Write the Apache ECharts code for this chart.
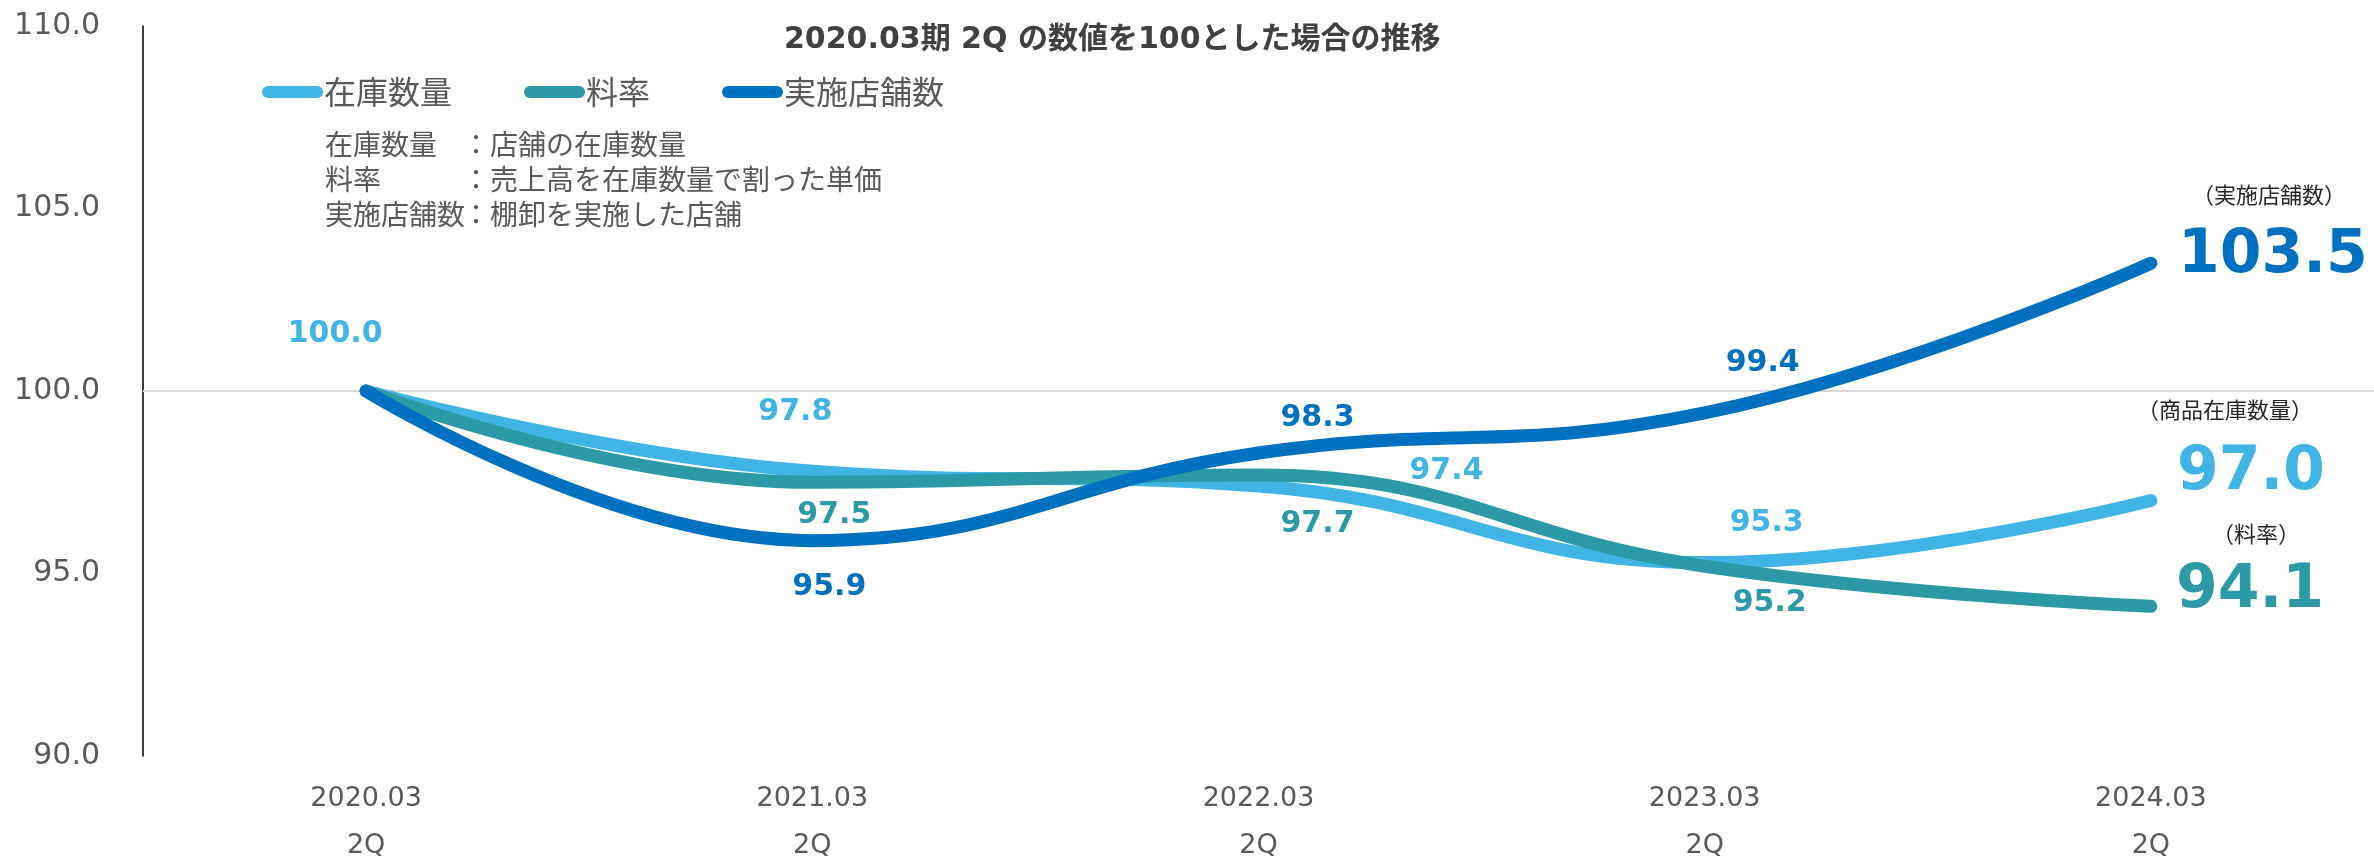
<!DOCTYPE html>
<html>
<head>
<meta charset="utf-8">
<script src="https://cdn.jsdelivr.net/npm/echarts@6/dist/echarts.min.js"></script>
<style>
  html, body { margin: 0; padding: 0; background: #fff; }
  #chart { width: 2374px; height: 860px; }
</style>
</head>
<body>
<div id="chart"></div>
<script>
const categories = ['2020.03\n2Q', '2021.03\n2Q', '2022.03\n2Q', '2023.03\n2Q', '2024.03\n2Q']
const stockQty = [100.0, 97.8, 97.4, 95.3, 97.0]
const rate = [100.0, 97.5, 97.7, 95.2, 94.1]
const storeCount = [100.0, 95.9, 98.3, 99.4, 103.5]
const seriesNames = ['在庫数量', '料率', '実施店舗数']
const yTicks = [90, 95, 100, 105, 110]

const titleText = '2020.03期 2Q の数値を100とした場合の推移'
const notes = [
  ['在庫数量', '：店舗の在庫数量'],
  ['料率', '：売上高を在庫数量で割った単価'],
  ['実施店舗数', '：棚卸を実施した店舗']
]
const endCaptions = ['（商品在庫数量）', '（料率）', '（実施店舗数）']

const colors = ['#41b4e6', '#2b9aa6', '#0070c0']
const latin = "'DejaVu Sans', 'Noto Sans CJK JP', sans-serif"
const cjk = "'Noto Sans CJK JP', 'DejaVu Sans', sans-serif"

// label placement per point (null = no label), last one is the big end label
const labelOffsets = [
  [[-31, -57], [-17, -59], [188, -15], [62, -39], [100, -27]],
  [null, [22, 33], [59, 49], [65, 37], [99, -15]],
  [null, [17, 47], [59, -35], [58, -50], [122, -7]]
]

const buildData = (values, idx) => values.map((v, i) => {
  const off = labelOffsets[idx][i]
  const last = i === values.length - 1
  return {
    value: v,
    label: off ? {
      show: true,
      position: 'inside',
      offset: off,
      formatter: (p) => p.value.toFixed(1),
      color: colors[idx],
      fontFamily: latin,
      fontWeight: 'bold',
      fontSize: last ? 60 : 30
    } : { show: false }
  }
})

const makeSeries = (values, idx) => ({
  name: seriesNames[idx],
  type: 'line',
  smooth: 0.45,
  z: 2 + idx,
  symbol: 'circle',
  symbolSize: 1,
  itemStyle: { color: colors[idx] },
  lineStyle: { width: 13, color: colors[idx], cap: 'round', join: 'round' },
  emphasis: { disabled: true },
  data: buildData(values, idx)
})

const chart = echarts.init(document.getElementById('chart'), null, { renderer: 'canvas' })

const noteGraphics = []
const noteY = [146, 181, 216]
notes.forEach((n, i) => {
  noteGraphics.push({
    type: 'text', left: 325, top: noteY[i] - 16,
    style: { text: n[0], fill: '#595959', font: `28px ${cjk}` }
  })
  noteGraphics.push({
    type: 'text', left: 462, top: noteY[i] - 16,
    style: { text: n[1], fill: '#595959', font: `28px ${cjk}` }
  })
})

const captionPos = [[2225, 410], [2256, 534], [2269, 195]]
const captionGraphics = endCaptions.map((t, i) => ({
  type: 'text',
  x: captionPos[i][0],
  y: captionPos[i][1],
  style: {
    text: t, fill: '#262626', font: `22px ${cjk}`,
    textAlign: 'center', textVerticalAlign: 'middle'
  }
}))

const series = [
  makeSeries(stockQty, 0),
  makeSeries(rate, 1),
  makeSeries(storeCount, 2)
]
series[0].markLine = {
  silent: true,
  symbol: 'none',
  label: { show: false },
  lineStyle: { color: '#d9d9d9', width: 2, type: 'solid' },
  data: [{ yAxis: 100 }],
  z: 1
}

chart.setOption({
  animation: false,
  backgroundColor: '#fff',
  title: {
    text: titleText,
    left: 779,
    top: 20,
    textStyle: { fontFamily: latin, fontWeight: 'bold', fontSize: 30, color: '#404040' }
  },
  legend: {
    left: 257,
    top: 71,
    itemWidth: 61,
    itemHeight: 12,
    itemGap: 72,
    icon: 'path://M6,0 L55,0 A6,6 0 0 1 55,12 L6,12 A6,6 0 0 1 6,0 Z',
    textStyle: { fontFamily: cjk, fontSize: 32, color: '#595959', padding: [0, 0, 0, -4] },
    data: seriesNames.map((n, i) => ({ name: n, itemStyle: { color: colors[i] } }))
  },
  grid: { left: 143, right: 0, top: 26, bottom: 104, containLabel: false, outerBoundsMode: 'none' },
  xAxis: {
    type: 'category',
    data: categories,
    boundaryGap: true,
    axisLine: { show: false },
    axisTick: { show: false },
    axisLabel: { color: '#595959', fontFamily: latin, fontSize: 27, lineHeight: 47, margin: 19 }
  },
  yAxis: {
    type: 'value',
    min: yTicks[0],
    max: yTicks[yTicks.length - 1],
    interval: 5,
    axisLine: { show: true, lineStyle: { color: '#000', width: 1.5 } },
    axisTick: { show: false },
    splitLine: { show: false },
    axisLabel: {
      color: '#595959', fontFamily: latin, fontSize: 30, margin: 43,
      formatter: (v) => v.toFixed(1)
    }
  },
  graphic: noteGraphics.concat(captionGraphics),
  series: series
})

window.addEventListener('resize', () => chart.resize())
</script>
</body>
</html>
